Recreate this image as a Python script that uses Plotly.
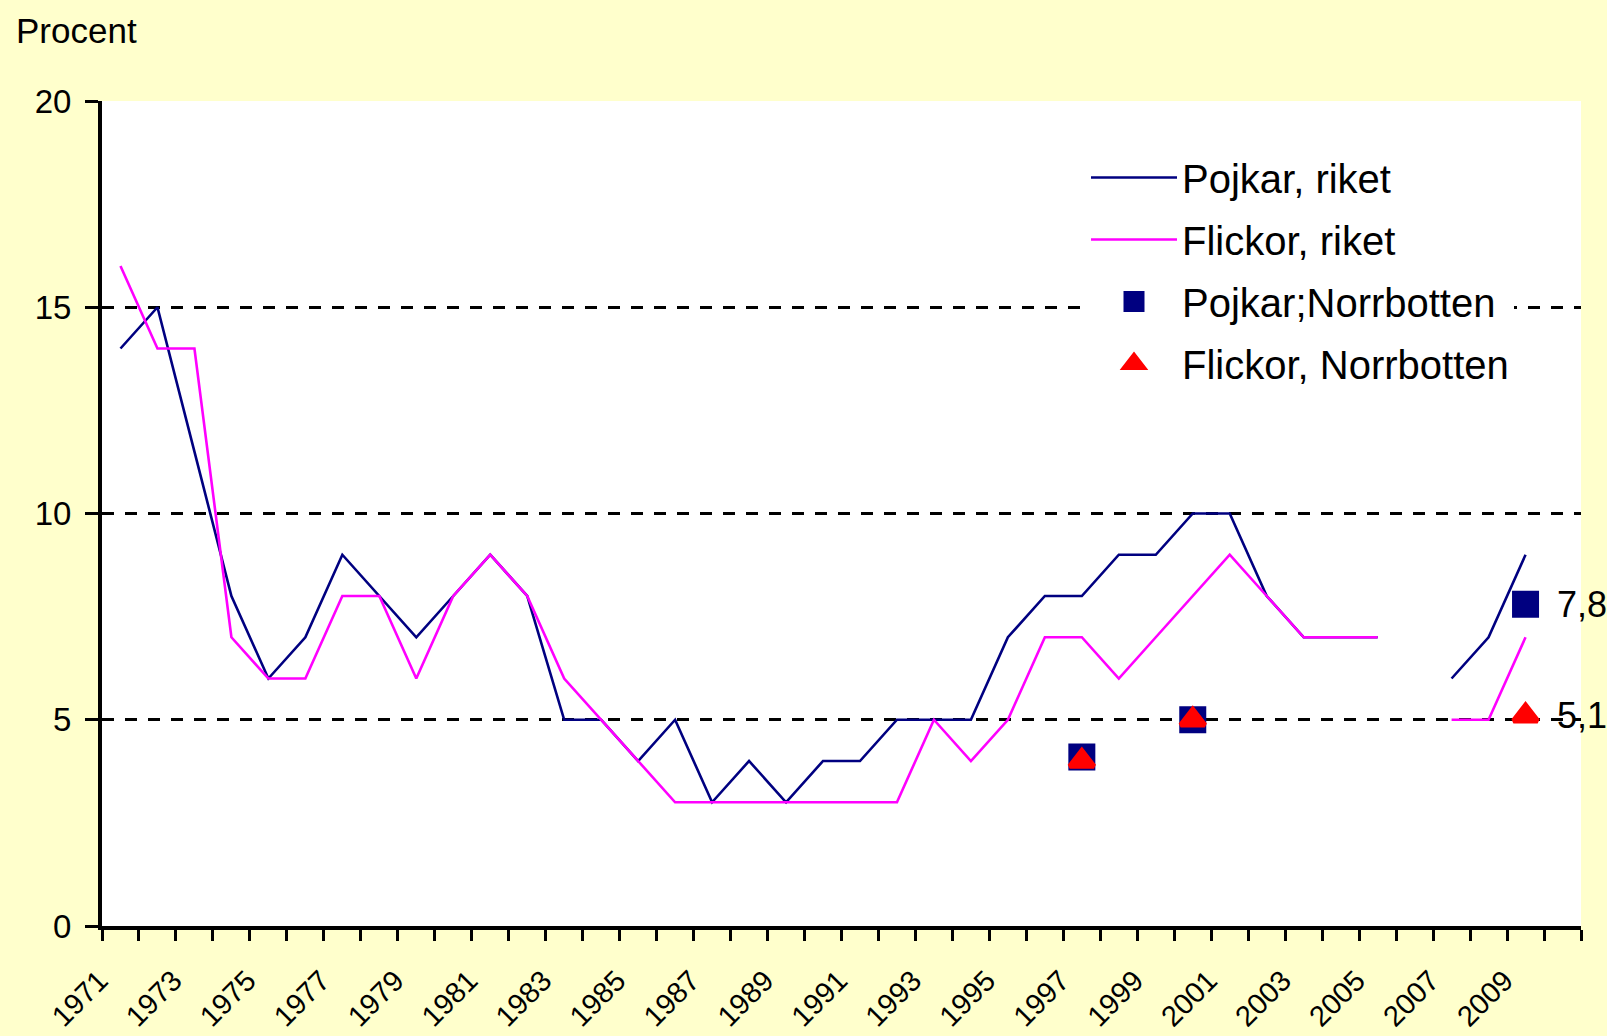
import plotly.graph_objects as go

years = list(range(1971, 2010))

pojkar_riket = [14, 15, 11.5, 8, 6, 7, 9, 8, 7, 8,
                9, 8, 5, 5, 4, 5, 3, 4, 3, 4,
                4, 5, 5, 5, 7, 8, 8, 9, 9, 10,
                10, 8, 7, 7, 7, None, 6, 7, 9]

flickor_riket = [16, 14, 14, 7, 6, 6, 8, 8, 6, 8,
                 9, 8, 6, 5, 4, 3, 3, 3, 3, 3,
                 3, 3, 5, 4, 5, 7, 7, 6, 7, 8,
                 9, 8, 7, 7, 7, None, 5, 5, 7]

norr_years = [1997, 2000, 2009]
pojkar_norrbotten = [4.1, 5.0, 7.8]
flickor_norrbotten = [4.0, 5.0, 5.1]

tick_years = list(range(1971, 2010, 2))
tick_labels = [str(y) for y in tick_years]


def fmt(v):
    return f"{v:.1f}".replace(".", ",")


FONT = "Liberation Sans, Arial, sans-serif"
NAVY = "#000080"
PINK = "#FF00FF"
RED = "#FF0000"

fig = go.Figure()
fig.add_trace(go.Scatter(x=years, y=pojkar_riket, mode="lines", name="Pojkar, riket",
                         line=dict(color=NAVY, width=2.6), connectgaps=False,
                         legendgroup="a"))
fig.add_trace(go.Scatter(x=years, y=flickor_riket, mode="lines", name="Flickor, riket",
                         line=dict(color=PINK, width=2.6), connectgaps=False,
                         legendgroup="b"))
fig.add_trace(go.Scatter(x=norr_years, y=pojkar_norrbotten, mode="markers",
                         name="Pojkar;Norrbotten",
                         marker=dict(symbol="square", size=22, color=NAVY,
                                     line=dict(color=NAVY, width=5)),
                         cliponaxis=False, legendgroup="c"))
fig.add_trace(go.Scatter(x=norr_years, y=flickor_norrbotten, mode="markers",
                         name="Flickor, Norrbotten",
                         marker=dict(symbol="triangle-up", size=21, color=RED,
                                     line=dict(color=RED, width=5)),
                         cliponaxis=False, legendgroup="d"))

L, R, T, B = 102, 26, 101, 110
W, H = 1607, 1036
pw, ph = W - L - R, H - T - B

annotations = [dict(
    text="Procent", xref="paper", yref="paper",
    x=(14 - L) / pw, y=(H - B - 31) / ph,
    xanchor="left", yanchor="middle", showarrow=False,
    font=dict(family=FONT, size=35, color="black"),
)]
for vals in (pojkar_norrbotten, flickor_norrbotten):
    annotations.append(dict(
        text=fmt(vals[-1]), x=norr_years[-1], y=vals[-1], xref="x", yref="y",
        xanchor="left", yanchor="middle", xshift=29, showarrow=False,
        font=dict(family=FONT, size=36, color="black"),
    ))

fig.update_layout(
    width=W, height=H,
    margin=dict(l=L, r=R, t=T, b=B, pad=0, autoexpand=False),
    paper_bgcolor="#FFFFCC",
    plot_bgcolor="#FFFFFF",
    font=dict(family=FONT, color="black"),
    showlegend=True,
    legend=dict(
        x=(1086 - L) / pw, y=(H - B - 145) / ph,
        xanchor="left", yanchor="top",
        bgcolor="#FFFFFF", borderwidth=0,
        font=dict(family=FONT, size=40, color="black"),
        itemwidth=86, tracegroupgap=7, traceorder="grouped",
        itemsizing="trace",
    ),
    xaxis=dict(
        range=[1970.5, 2010.5], automargin=False,
        tickmode="array", tickvals=tick_years, ticktext=tick_labels,
        ticks="", tickangle=-45,
        tickfont=dict(family=FONT, size=29, color="black"),
        ticklabelstandoff=22, ticklabelshift=-21,
        showgrid=False, zeroline=False,
        showline=True, linecolor="black", linewidth=4,
        minor=dict(tickmode="linear", tick0=1970.5, dtick=1, ticks="outside",
                   ticklen=11, tickwidth=3, tickcolor="black", showgrid=False),
    ),
    yaxis=dict(
        range=[0, 20], tickmode="linear", tick0=0, dtick=5, automargin=False,
        ticks="outside", ticklen=13, tickwidth=3, tickcolor="black",
        tickfont=dict(family=FONT, size=33, color="black"),
        ticklabelstandoff=7,
        showgrid=True, gridcolor="black", gridwidth=3, griddash="12px,11px",
        zeroline=False,
        showline=True, linecolor="black", linewidth=4,
    ),
    annotations=annotations,
)

fig.write_html("out.html", include_plotlyjs=True, full_html=True,
               config={"displayModeBar": False},
               post_script="document.body.style.margin='0';")
